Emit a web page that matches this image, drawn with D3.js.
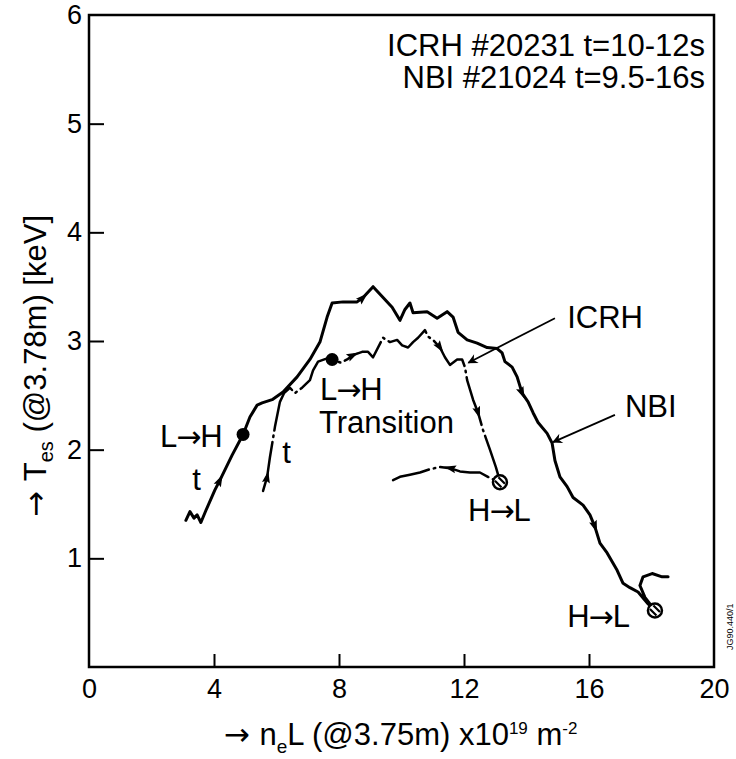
<!DOCTYPE html>
<html>
<head>
<meta charset="UTF-8">
<title>Tes vs neL</title>
<script src="https://cdn.jsdelivr.net/npm/d3@7"></script>
<style>
  body { margin: 0; background: #fff; }
  svg { font-family: "Liberation Sans", Arial, sans-serif; }
  .line { fill: none; stroke: #000; stroke-linejoin: round; stroke-linecap: round; }
  .axis text { font-size: 27px; fill: #000; }
  .axis line { stroke: #000; stroke-width: 2px; }
  .axis path { display: none; }
  .label { font-size: 31px; fill: #000; }
</style>
</head>
<body>
<div id="chart"></div>
<script>
// NBI #21024
var nbiX = [3.10, 3.23, 3.36, 3.46, 3.58, 3.74, 4.03, 4.19, 4.58, 4.93,
            5.15, 5.38, 5.54, 5.86, 6.21, 6.66, 7.07, 7.39, 7.62, 7.78,
            8.13, 8.58, 8.77, 9.09, 9.41, 9.70, 9.95, 10.11, 10.27, 10.37,
            10.82, 11.14, 11.46, 11.65, 11.81, 12.10, 12.42, 12.74, 13.06, 13.22,
            13.31, 13.54, 13.70, 13.86, 14.05, 14.21, 14.37, 14.66, 14.82, 14.91,
            15.07, 15.30, 15.49, 15.81, 16.03, 16.19, 16.35, 16.58, 16.90, 17.09,
            17.31, 17.57, 17.86, 18.11, 17.79, 17.63, 17.73, 18.02, 18.34, 18.53];
var nbiY = [1.35, 1.43, 1.37, 1.40, 1.33, 1.44, 1.63, 1.72, 1.95, 2.14,
            2.30, 2.41, 2.43, 2.46, 2.53, 2.67, 2.83, 2.99, 3.22, 3.35,
            3.36, 3.36, 3.40, 3.50, 3.40, 3.31, 3.19, 3.29, 3.35, 3.26,
            3.27, 3.21, 3.27, 3.22, 3.08, 3.01, 2.98, 2.94, 2.93, 2.89,
            2.81, 2.76, 2.67, 2.52, 2.44, 2.34, 2.25, 2.15, 2.06, 1.90,
            1.75, 1.66, 1.56, 1.49, 1.40, 1.29, 1.14, 1.05, 0.89, 0.77,
            0.73, 0.69, 0.59, 0.52, 0.64, 0.75, 0.83, 0.86, 0.83, 0.83];
var nbiArrows = [7, 22, 43, 55];
var nbiLH = 9, nbiHL = 63;

// ICRH #20231
var icrhX = [5.57, 5.70, 5.79, 5.95, 6.11, 6.24, 6.43, 6.59, 6.82, 7.07,
             7.17, 7.33, 7.62, 7.78, 8.06, 8.26, 8.45, 8.74, 8.93, 9.09,
             9.41, 9.63, 9.86, 10.02, 10.21, 10.37, 10.53, 10.75, 10.85, 11.01,
             11.23, 11.39, 11.55, 11.78, 11.94, 12.03, 12.10, 12.29, 12.45, 12.61,
             12.83, 13.02, 13.09, 13.15, 12.83, 12.51, 12.19, 11.87, 11.55, 11.23,
             10.91, 10.59, 10.27, 9.95, 9.73];
var icrhY = [1.62, 1.75, 1.93, 2.21, 2.44, 2.52, 2.57, 2.52, 2.57, 2.64,
             2.73, 2.81, 2.84, 2.83, 2.80, 2.83, 2.87, 2.90, 2.90, 2.85,
             3.03, 2.99, 3.01, 2.96, 2.94, 2.99, 3.03, 3.10, 3.04, 3.01,
             2.94, 2.85, 2.78, 2.83, 2.83, 2.76, 2.64, 2.46, 2.34, 2.18,
             2.00, 1.84, 1.77, 1.70, 1.74, 1.79, 1.79, 1.80, 1.83, 1.84,
             1.82, 1.79, 1.77, 1.75, 1.72];
var icrhArrows = [1, 16, 30, 38, 48];
var icrhLH = 13, icrhHL = 43;

var xTicks = [0, 4, 8, 12, 16, 20];
var yTicks = [1, 2, 3, 4, 5, 6];

// text labels [text, x, y] in data units (x = left end, y = baseline)
var labels = [
  ["L\u2192H", 2.27, 2.02],
  ["t", 3.30, 1.63],
  ["t", 6.18, 1.88],
  ["L\u2192H", 7.39, 2.46],
  ["Transition", 7.36, 2.15],
  ["ICRH", 15.30, 3.12],
  ["NBI", 17.15, 2.30],
  ["H\u2192L", 12.13, 1.34],
  ["H\u2192L", 15.30, 0.37]
];
// leader arrows [x1, y1, x2, y2], arrowhead at the second point
var leaders = [
  [14.91, 3.21, 12.14, 2.80],
  [16.83, 2.32, 14.85, 2.07]
];

var width = 736, height = 759;
var margin = { top: 15, right: 22, bottom: 92, left: 89 };

var x = d3.scaleLinear().domain([0, 20]).range([margin.left, width - margin.right]);
var y = d3.scaleLinear().domain([0, 6]).range([height - margin.bottom, margin.top]);

var svg = d3.select("#chart").append("svg")
  .attr("width", width)
  .attr("height", height);

svg.append("defs").append("marker")
  .attr("id", "head")
  .attr("viewBox", "0 0 10 10")
  .attr("refX", 9).attr("refY", 5)
  .attr("markerWidth", 14).attr("markerHeight", 10)
  .attr("markerUnits", "userSpaceOnUse")
  .attr("orient", "auto")
  .append("path")
  .attr("d", "M0,0 L10,5 L0,10 L3,5 Z")
  .attr("fill", "#000");

/* axes, ticks pointing inward */
svg.append("g")
  .attr("class", "x axis")
  .attr("transform", "translate(0," + y(0) + ")")
  .call(d3.axisBottom(x).tickValues(xTicks).tickFormat(d3.format("d"))
    .tickSizeInner(-13).tickSizeOuter(0).tickPadding(12))
  .selectAll(".tick line")
  .attr("display", function(d) { return d === 0 || d === 20 ? "none" : null; });

svg.append("g")
  .attr("class", "y axis")
  .attr("transform", "translate(" + x(0) + ",0)")
  .call(d3.axisLeft(y).tickValues(yTicks).tickFormat(d3.format("d"))
    .tickSizeInner(-15).tickSizeOuter(0).tickPadding(7))
  .selectAll(".tick line")
  .attr("display", function(d) { return d === 6 ? "none" : null; });

svg.append("rect")
  .attr("x", x(0)).attr("y", y(6))
  .attr("width", x(20) - x(0)).attr("height", y(0) - y(6))
  .attr("fill", "none").attr("stroke", "#000").attr("stroke-width", 2.5);

/* curves */
function pts(xs, ys) { return xs.map(function(v, i) { return [v, ys[i]]; }); }
var nbi = pts(nbiX, nbiY);
var icrh = pts(icrhX, icrhY);

var line = d3.line()
  .x(function(d) { return x(d[0]); })
  .y(function(d) { return y(d[1]); });

svg.append("path")
  .attr("class", "line")
  .attr("d", line(nbi))
  .attr("stroke-width", 3);

svg.append("path")
  .attr("class", "line")
  .attr("d", line(icrh))
  .attr("stroke-width", 2.5)
  .attr("stroke-dasharray", "50 5 1.5 5")
  .attr("stroke-linecap", "butt");

/* direction arrows along the curves */
function arrows(data, idx) {
  svg.append("g").selectAll("path")
    .data(idx).enter()
    .append("path")
    .attr("d", "M6,0 L-6,-4 L-4,0 L-6,4 Z")
    .attr("fill", "#000")
    .attr("transform", function(i) {
      var a = data[i - 1], b = data[i + 1];
      var ang = Math.atan2(y(b[1]) - y(a[1]), x(b[0]) - x(a[0])) * 180 / Math.PI;
      return "translate(" + x(data[i][0]) + "," + y(data[i][1]) + ") rotate(" + ang + ")";
    });
}
arrows(nbi, nbiArrows);
arrows(icrh, icrhArrows);

/* L->H dots */
svg.selectAll(".lh")
  .data([nbi[nbiLH], icrh[icrhLH]]).enter()
  .append("circle")
  .attr("cx", function(d) { return x(d[0]); })
  .attr("cy", function(d) { return y(d[1]); })
  .attr("r", 6.5)
  .attr("fill", "#000");

/* H->L hatched circles */
var hl = svg.selectAll(".hl")
  .data([nbi[nbiHL], icrh[icrhHL]]).enter()
  .append("g")
  .attr("transform", function(d) { return "translate(" + x(d[0]) + "," + y(d[1]) + ")"; });
hl.append("circle")
  .attr("r", 7).attr("fill", "#fff").attr("stroke", "#000").attr("stroke-width", 2.5);
hl.append("path")
  .attr("d", "M-5,-1.5 L1.5,5 M-1.5,-5 L5,1.5")
  .attr("stroke", "#000").attr("stroke-width", 2.2);

/* leaders */
svg.selectAll(".leader")
  .data(leaders).enter()
  .append("line")
  .attr("x1", function(d) { return x(d[0]); })
  .attr("y1", function(d) { return y(d[1]); })
  .attr("x2", function(d) { return x(d[2]); })
  .attr("y2", function(d) { return y(d[3]); })
  .attr("stroke", "#000").attr("stroke-width", 1.8)
  .attr("marker-end", "url(#head)");

/* annotations; the arrow glyph is set tight against its letters */
svg.selectAll(".label")
  .data(labels).enter()
  .append("text")
  .attr("class", "label")
  .attr("x", function(d) { return x(d[1]); })
  .attr("y", function(d) { return y(d[2]); })
  .each(function(d) {
    var t = d3.select(this);
    var parts = d[0].split("\u2192");
    t.append("tspan").text(parts[0]);
    if (parts.length > 1) {
      t.append("tspan").attr("dx", -1).attr("font-family", "DejaVu Sans")
        .attr("font-size", "30px").text("\u2192");
      t.append("tspan").attr("dx", -1).text(parts[1]);
    }
  });

svg.append("text").attr("class", "label")
  .attr("x", x(20) - 9).attr("y", y(6) + 41)
  .attr("text-anchor", "end")
  .text("ICRH #20231 t=10-12s");
svg.append("text").attr("class", "label")
  .attr("x", x(20) - 9).attr("y", y(6) + 73)
  .attr("text-anchor", "end")
  .text("NBI #21024 t=9.5-16s");

/* axis titles */
var xt = svg.append("text")
  .attr("class", "label")
  .attr("font-size", "28px")
  .attr("x", (x(0) + x(20)) / 2 - 1)
  .attr("y", height - 14)
  .attr("text-anchor", "middle");
xt.append("tspan").attr("font-family", "DejaVu Sans").text("\u2192 ");
xt.append("tspan").text("n");
xt.append("tspan").attr("font-size", "19px").attr("dy", 8).text("e");
xt.append("tspan").attr("dy", -8).text("L (@3.75m) x10");
xt.append("tspan").attr("font-size", "17px").attr("dy", -11).text("19");
xt.append("tspan").attr("dy", 11).text(" m");
xt.append("tspan").attr("font-size", "17px").attr("dy", -11).text("-2");

var yt = svg.append("text")
  .attr("class", "label")
  .attr("font-size", "29px")
  .attr("transform", "translate(46," + 366 + ") rotate(-90)")
  .attr("text-anchor", "middle");
yt.append("tspan").attr("font-family", "DejaVu Sans").text("\u2192 ");
yt.append("tspan").text("T");
yt.append("tspan").attr("font-size", "20px").attr("dy", 7).text("es");
yt.append("tspan").attr("dy", -7).text(" (@3.78m) [keV]");

svg.append("text")
  .attr("font-size", "9px")
  .attr("transform", "translate(733,650) rotate(-90)")
  .text("JG90.440/1");
</script>
</body>
</html>
